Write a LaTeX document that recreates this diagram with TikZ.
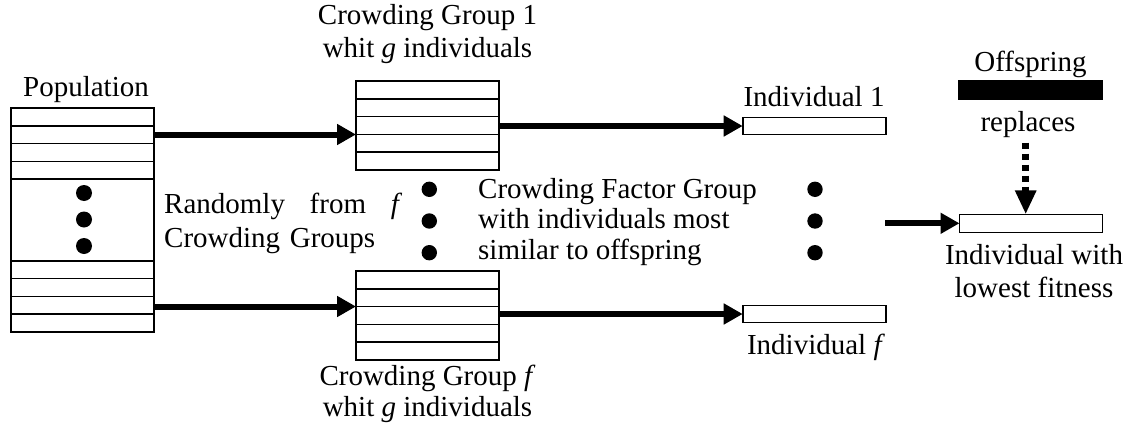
\documentclass[tikz,border=0pt]{standalone}
\usepackage{fontspec}
\setmainfont{Liberation Serif}
\usetikzlibrary{arrows.meta}
\tikzset{%
    stack/.style={inner sep=0pt,outer sep=0pt,shape=rectangle,draw,line width=1.6pt,minimum width=143pt},
    slot/.style={inner sep=0pt,outer sep=0pt,shape=rectangle,draw,line width=1.6pt,minimum width=143pt,minimum height=17pt},
    row/.style={line width=1.6pt},
    fat/.style={line width=6pt,-{Triangle[length=19pt,width=20pt]}},
    dotarrow/.style={line width=7pt,dash pattern=on 6pt off 5pt,-{Triangle[length=24pt,width=20pt]}},
    lbl/.style={inner sep=0pt,font=\fontsize{29}{33}\selectfont},
}

\begin{document}
\begin{tikzpicture}[x=1pt,y=-1pt]
      \useasboundingbox (0,0) rectangle (1130,431);

      % population
      \node[stack,minimum height=224pt] (pop) at (82.5,220) {};
      \foreach \i in {1,...,4} {
        \draw[row] ([yshift=-\i*17.8pt]pop.north west) -- ([yshift=-\i*17.8pt]pop.north east);
        \draw[row] ([yshift=\i*17.8pt]pop.south west) -- ([yshift=\i*17.8pt]pop.south east);
      }
      \foreach \y in {193,219.5,246} \fill (84,\y) circle (8pt);
      \node[lbl,anchor=base] (poplbl) at (86,96) {Population};

      % crowding groups (base = last line)
      \node[stack,minimum height=89pt] (cg1) at (427.5,125.5) {};
      \node[stack,minimum height=89pt] (cgf) at (427.5,315.5) {};
      \foreach \g in {cg1,cgf} \foreach \i in {1,...,4}
        \draw[row] ([yshift=-\i*17.8pt]\g.north west) -- ([yshift=-\i*17.8pt]\g.north east);
      \node[lbl,anchor=base,align=center] (cg1lbl) at (427.5,57) {Crowding Group 1\\whit \textit{g} individuals};
      \node[lbl,anchor=base,align=center,font=\fontsize{29}{31}\selectfont] (cgflbl) at (427.5,416.5) {Crowding Group \textit{f}\\whit \textit{g} individuals};

      % individuals
      \node[slot] (ind1) at (814.2,126) {};
      \node[slot] (indf) at (814.2,314) {};
      \node[lbl,anchor=base] (ind1lbl) at (814,106.7) {Individual 1};
      \node[lbl,anchor=base] (indflbl) at (816,354) {Individual \textit{f}};

      \node[lbl,anchor=base west,text width=238pt,align=left,font=\fontsize{29}{34}\selectfont] (rand) at (164,213.3) {Randomly\hfill from\hfill \textit{f}\\Crowding Groups};
      \node[lbl,anchor=base west,align=left,font=\fontsize{29}{30.5}\selectfont] (fac) at (478,259) {Crowding Factor Group\\with individuals most\\similar to offspring};
      \foreach \x in {429.3,815} \foreach \y in {189.3,221,252.7} \fill (\x,\y) circle (7.7pt);

      % offspring
      \node[slot,fill=black,minimum width=144pt,minimum height=18pt] (off) at (1030.5,90.2) {};
      \node[lbl,anchor=base] (offlbl) at (1030.5,71) {Offspring};
      \node[lbl,anchor=base] (rep) at (1028,131.7) {replaces};
      \node[slot,minimum height=18pt] (low) at (1031,223.3) {};
      \node[lbl,anchor=base,align=center] (lowlbl) at (1034,297) {Individual with\\lowest fitness};

      \coordinate (in1) at ([yshift=-9pt]cg1.west);
      \coordinate (inf) at ([yshift=9pt]cgf.west);
      \coordinate (src) at (885,223.3);
      \coordinate (drop) at (1025.7,142.7);
      \draw[fat] (pop.east |- in1) -- (in1);
      \draw[fat] (pop.east |- inf) -- (inf);
      \draw[fat] (cg1.east |- ind1.west) -- (ind1.west);
      \draw[fat] (cgf.east |- indf.west) -- (indf.west);
      \draw[fat] (src) -- (low.west);
      \draw[dotarrow] (drop) -- (drop |- low.north);
    \end{tikzpicture}
\end{document}
